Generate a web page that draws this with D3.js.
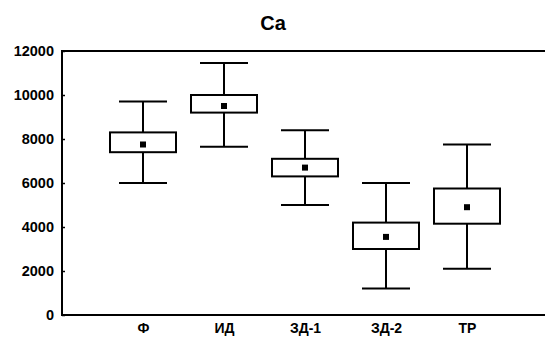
<!DOCTYPE html>
<html><head><meta charset="utf-8">
<script src="https://cdn.jsdelivr.net/npm/d3@7"></script>
<style>body{margin:0;background:#fff}svg{display:block}text{font-family:"Liberation Sans",Arial,sans-serif;font-weight:bold;fill:#000}</style>
</head><body><svg id="c" width="545" height="344"></svg>
<script>
const categories = ["Ф", "ИД", "ЗД-1", "ЗД-2", "ТР"];
const whiskerLow  = [6000, 7650, 5000, 1200, 2100];
const boxLow      = [7400, 9200, 6300, 3000, 4150];
const meanValues  = [7750, 9500, 6700, 3550, 4900];
const boxHigh     = [8300, 10000, 7100, 4200, 5750];
const whiskerHigh = [9700, 11450, 8400, 6000, 7750];
const yTicks = [0, 2000, 4000, 6000, 8000, 10000, 12000];
const title = "Ca";

(function () {
const svg = d3.select("#c");
const mL = 62, mR = 548, mT = 51, mB = 315;
const x = d3.scalePoint().domain(["_a", ...categories, "_b"]).range([mL, mR]);
const y = d3.scaleLinear().domain([0, 12000]).range([mB, mT]);

svg.append("text").attr("x", 273).attr("y", 30).attr("text-anchor", "middle").attr("font-size", 20).text(title);

svg.append("rect").attr("x", mL).attr("y", mT).attr("width", mR - mL).attr("height", mB - mT)
  .attr("fill", "none").attr("stroke", "#000").attr("stroke-width", 2);

const ya = svg.append("g").attr("transform", `translate(${mL},0)`)
  .call(d3.axisLeft(y).tickValues(yTicks).tickSize(-3).tickPadding(8).tickFormat(d3.format("d")));
ya.select(".domain").remove();
ya.selectAll("line").attr("stroke", "#000").attr("stroke-width", 1.5);
ya.selectAll("text").attr("font-size", 14.5).attr("font-family", "Liberation Sans, Arial, sans-serif").attr("font-weight", "bold");

const xa = svg.append("g").attr("transform", `translate(0,${mB})`)
  .call(d3.axisBottom(x).tickValues(categories).tickSize(0).tickPadding(8));
xa.select(".domain").remove();
xa.selectAll("text").attr("font-size", 14).attr("font-family", "Liberation Sans, Arial, sans-serif").attr("font-weight", "bold");

const data = categories.map((c, i) => ({c, wl: whiskerLow[i], bl: boxLow[i], m: meanValues[i], bh: boxHigh[i], wh: whiskerHigh[i]}));
const boxW = 66, capW = 48;
const g = svg.append("g").selectAll("g").data(data).join("g").attr("transform", d => `translate(${x(d.c)},0)`);
g.append("line").attr("y1", d => y(d.wh)).attr("y2", d => y(d.bh)).attr("stroke", "#000").attr("stroke-width", 2);
g.append("line").attr("y1", d => y(d.bl)).attr("y2", d => y(d.wl)).attr("stroke", "#000").attr("stroke-width", 2);
g.append("line").attr("x1", -capW/2).attr("x2", capW/2).attr("y1", d => y(d.wh)).attr("y2", d => y(d.wh)).attr("stroke", "#000").attr("stroke-width", 2);
g.append("line").attr("x1", -capW/2).attr("x2", capW/2).attr("y1", d => y(d.wl)).attr("y2", d => y(d.wl)).attr("stroke", "#000").attr("stroke-width", 2);
g.append("rect").attr("x", -boxW/2).attr("width", boxW).attr("y", d => y(d.bh)).attr("height", d => y(d.bl) - y(d.bh))
  .attr("fill", "#fff").attr("stroke", "#000").attr("stroke-width", 2);
g.append("rect").attr("x", -3).attr("width", 6).attr("y", d => y(d.m) - 3).attr("height", 6).attr("fill", "#000");
})();
</script></body></html>
